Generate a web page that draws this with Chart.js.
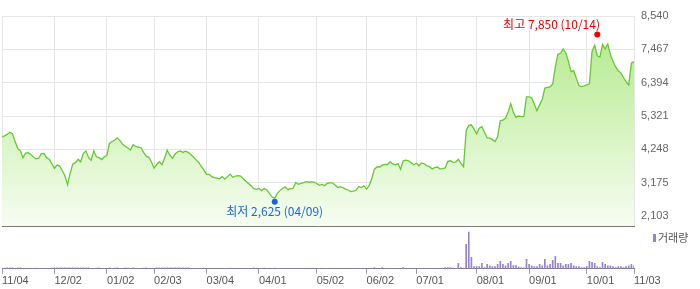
<!DOCTYPE html>
<html>
<head>
<meta charset="utf-8">
<script src="https://cdn.jsdelivr.net/npm/chart.js@4"></script>
<style>
html, body { margin: 0; padding: 0; background: #fff; }
#wrap { position: relative; width: 700px; height: 289px; }
#priceBox { position: absolute; left: 0; top: 0; width: 700px; height: 228px; }
#volBox { position: absolute; left: 0; top: 226px; width: 700px; height: 63px; }
</style>
</head>
<body>
<div id="wrap">
  <div id="priceBox"><canvas id="priceChart"></canvas></div>
  <div id="volBox"><canvas id="volChart"></canvas></div>
</div>
<script>
// trading-day index of the first session of each month, and its label
var tickIdx = [0, 20, 40, 58, 78, 98, 120, 139, 158, 181, 201, 223, 241];
var tickLabels = ['11/04', '12/02', '01/02', '02/03', '03/04', '04/01', '05/02', '06/02', '07/01', '08/01', '09/01', '10/01', '11/03'];

var priceTicks = [2103, 3175, 4248, 5321, 6394, 7467, 8540];

// daily close
var prices = [
  4640, 4680, 4730, 4800, 4750, 4500, 4280, 4200, 3980, 4130,
  4140, 4080, 4000, 3940, 3960, 4110, 4120, 3980, 3930, 3790,
  3640, 3740, 3710, 3560, 3400, 3110, 3480, 3780, 3820, 3930,
  3850, 4110, 4200, 3980, 3900, 4200, 4010, 3980, 3920, 4010,
  4050, 4440, 4500, 4550, 4620, 4530, 4410, 4350, 4290, 4230,
  4400, 4340, 4320, 4300, 4150, 4030, 3990, 3840, 3640, 3760,
  3850, 3750, 3960, 4220, 4060, 3960, 4100, 4170, 4200, 4150,
  4190, 4150, 4080, 4000, 3910, 3830, 3700, 3580, 3445, 3440,
  3370, 3340, 3320, 3300, 3370, 3290, 3370, 3450, 3350, 3390,
  3400, 3390, 3300, 3220, 3150, 3080, 2980, 2960, 2990, 2920,
  2990, 2940, 2820, 2720, 2680, 2830, 2920, 2990, 3040, 2950,
  2980, 2990, 3180, 3120, 3150, 3180, 3210, 3190, 3200, 3190,
  3150, 3090, 3120, 3080, 3150, 3170, 3170, 3100, 3020, 3040,
  3020, 2970, 2940, 2890, 2900, 2930, 3050, 3020, 3070, 2970,
  3080, 3300, 3610, 3680, 3680, 3740, 3760, 3760, 3850, 3780,
  3750, 3790, 3600, 3880, 3900, 3880, 3820, 3750, 3800, 3720,
  3810, 3780, 3720, 3690, 3620, 3660, 3680, 3620, 3630, 3650,
  3860, 3880, 3830, 3840, 3930, 3800, 3690, 4850, 5020, 5030,
  4900, 4750, 4930, 4980, 4800, 4620, 4610, 4560, 4500, 4650,
  5170, 5190, 5250, 5450, 5720, 5440, 5280, 5320, 5300, 5310,
  5940, 5940, 5900, 5700, 5490, 5680, 5850, 6220, 6240, 6260,
  6350, 6900, 7310, 7340, 7480, 7350, 7080, 6750, 6780, 6540,
  6300, 6270, 6290, 6320, 6360, 7400, 7600, 7260, 7220, 7620,
  7480, 7640, 7300, 7080, 6900, 6780, 6710, 6560, 6420, 6320,
  7020, 7070
];

// daily volume (thousand shares)
var volumes = [
  40, 60, 100, 90, 100, 50, 100, 90, 40, 30,
  50, 40, 30, 60, 40, 30, 50, 40, 30, 60,
  100, 90, 100, 90, 90, 100, 100, 90, 100, 90,
  100, 90, 100, 90, 40, 50, 60, 100, 40, 30,
  50, 100, 40, 60, 100, 40, 50, 100, 60, 40,
  100, 40, 50, 30, 60, 100, 40, 30, 50, 100,
  90, 100, 100, 90, 100, 90, 100, 100, 90, 100,
  90, 100, 40, 30, 50, 40, 30, 60, 40, 30,
  50, 40, 30, 40, 50, 30, 40, 60, 30, 40,
  30, 50, 40, 30, 40, 30, 100, 40, 30, 50,
  60, 40, 30, 50, 80, 40, 30, 50, 40, 30,
  40, 30, 50, 40, 30, 40, 30, 50, 40, 30,
  40, 30, 30, 40, 50, 30, 40, 30, 40, 30,
  30, 40, 30, 30, 40, 30, 40, 30, 30, 40,
  30, 40, 110, 30, 40, 110, 40, 30, 50, 40,
  30, 40, 40, 110, 40, 30, 40, 30, 50, 40,
  30, 40, 30, 50, 40, 30, 40, 30, 50, 130,
  130, 130, 60, 50, 530, 130, 60, 2430, 3630, 1130,
  230, 230, 230, 530, 130, 430, 300, 230, 230, 430,
  730, 430, 300, 530, 730, 330, 330, 200, 130, 100,
  930, 430, 300, 230, 230, 430, 300, 930, 300, 430,
  830, 1230, 530, 530, 300, 430, 430, 530, 300, 230,
  230, 130, 130, 230, 730, 630, 530, 230, 130, 630,
  430, 300, 300, 230, 130, 230, 230, 130, 230, 300,
  430, 300
];

// high / low markers: [index, value, date]
var highMark = [227, 7850, '10/14'];
var lowMark = [104, 2625, '04/09'];

var fmt = function (v) { return v.toLocaleString('en-US'); };
var setMonthTicks = function (scale) {
    scale.ticks = tickIdx.map(function (v) { return { value: v }; });
};

var markerPlugin = {
    id: 'markers',
    afterDatasetsDraw: function (chart) {
        var ctx = chart.ctx, x = chart.scales.x, y = chart.scales.y, area = chart.chartArea;
        ctx.save();
        ctx.font = '12px "Noto Sans CJK KR", sans-serif';
        ctx.textBaseline = 'middle';
        ctx.textAlign = 'left';

        // high
        var hx = x.getPixelForValue(highMark[0]);
        var hy = y.getPixelForValue(highMark[1]) - 3;
        var hText = '최고 ' + fmt(highMark[1]) + ' (' + highMark[2] + ')';
        var hw = ctx.measureText(hText).width;
        var hl = Math.min(hx - hw / 2, area.right - 34 - hw);
        ctx.fillStyle = '#ee0000';
        ctx.beginPath();
        ctx.arc(hx, hy, 3, 0, Math.PI * 2);
        ctx.fill();
        ctx.fillText(hText, hl, hy - 10);

        // low
        var lx = x.getPixelForValue(lowMark[0]);
        var ly = y.getPixelForValue(lowMark[1]) + 2;
        var lText = '최저 ' + fmt(lowMark[1]) + ' (' + lowMark[2] + ')';
        var lw = ctx.measureText(lText).width;
        ctx.fillStyle = '#1a66d8';
        ctx.beginPath();
        ctx.arc(lx, ly, 3, 0, Math.PI * 2);
        ctx.fill();
        ctx.fillText(lText, lx - lw / 2, ly + 10);
        ctx.restore();
    }
};

var volLegend = {
    id: 'volLegend',
    afterDraw: function (chart) {
        var ctx = chart.ctx;
        ctx.save();
        ctx.fillStyle = '#9683cc';
        ctx.fillRect(653, 8, 3, 8);
        ctx.fillStyle = '#555';
        ctx.font = '11px "Noto Sans CJK KR", sans-serif';
        ctx.textBaseline = 'middle';
        ctx.fillText('거래량', 658, 12);
        ctx.restore();
    }
};

// Price chart
var priceChart = new Chart(document.getElementById('priceChart'), {
    type: 'line',
    data: {
        datasets: [{
            data: prices.map(function (v, i) { return { x: i, y: v }; }),
            borderColor: '#66c834',
            borderWidth: 1.3,
            pointRadius: 0,
            tension: 0,
            fill: 'start',
            backgroundColor: function (c) {
                var area = c.chart.chartArea;
                if (!area) return 'rgba(180,235,140,0.5)';
                var g = c.chart.ctx.createLinearGradient(0, area.top, 0, area.bottom);
                g.addColorStop(0, '#b0e886');
                g.addColorStop(1, '#f6fdf1');
                return g;
            }
        }]
    },
    options: {
        responsive: true,
        maintainAspectRatio: false,
        animation: false,
        layout: { padding: { left: 2, top: 16, right: 0, bottom: 2 } },
        plugins: { legend: { display: false }, tooltip: { enabled: false } },
        scales: {
            x: {
                type: 'linear',
                min: 0,
                max: tickIdx[tickIdx.length - 1],
                afterBuildTicks: setMonthTicks,
                ticks: { display: false },
                grid: { color: '#e6e6e6', drawTicks: false },
                border: { display: true, color: '#7a7a7a' },
                afterFit: function (s) { s.height = 0; }
            },
            y: {
                position: 'right',
                min: 1781,
                max: 8540,
                afterBuildTicks: function (s) {
                    s.ticks = priceTicks.map(function (v) { return { value: v }; });
                },
                ticks: {
                    callback: function (v) { return fmt(v); },
                    font: { family: '"Liberation Sans", Arial, sans-serif', size: 11 },
                    color: '#666',
                    padding: 7
                },
                grid: { color: '#e6e6e6', drawTicks: false },
                border: { display: false },
                afterFit: function (s) {
                    s.width = 66;
                    s.paddingTop = 0;
                    s.paddingBottom = 0;
                }
            }
        }
    },
    plugins: [markerPlugin]
});

// Volume chart
var volChart = new Chart(document.getElementById('volChart'), {
    type: 'bar',
    data: {
        datasets: [{
            data: volumes.map(function (v, i) { return { x: i, y: v }; }),
            backgroundColor: '#9683cc',
            barThickness: 1
        }]
    },
    options: {
        responsive: true,
        maintainAspectRatio: false,
        animation: false,
        layout: { padding: { left: 2, top: 1, right: 66, bottom: 0 } },
        plugins: { legend: { display: false }, tooltip: { enabled: false } },
        scales: {
            x: {
                type: 'linear',
                offset: false,
                min: 0,
                max: tickIdx[tickIdx.length - 1],
                afterBuildTicks: setMonthTicks,
                ticks: {
                    autoSkip: false,
                    maxRotation: 0,
                    align: 'start',
                    padding: 1,
                    color: '#555',
                    font: { family: '"Liberation Sans", Arial, sans-serif', size: 11 },
                    callback: function (v) { return tickLabels[tickIdx.indexOf(v)]; }
                },
                grid: { offset: false, drawOnChartArea: false, drawTicks: true, tickLength: 5, color: '#999' },
                border: { display: true, color: '#7a7a7a' }
            },
            y: { display: false, min: 0, max: 4130 }
        }
    },
    plugins: [volLegend]
});
</script>
</body>
</html>
